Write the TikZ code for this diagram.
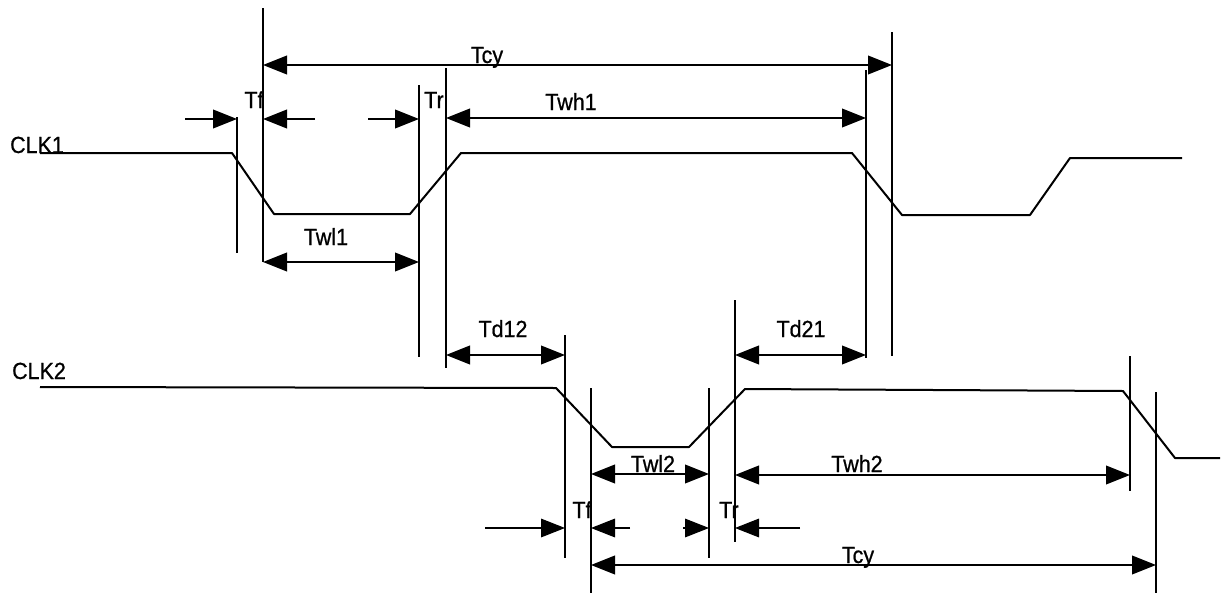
\documentclass[tikz,border=0pt]{standalone}
\usepackage{fontspec}
\setmainfont{Liberation Sans}[FakeStretch=0.92,FakeBold=0.8]
\usetikzlibrary{arrows.meta,positioning}

\begin{document}
\begin{tikzpicture}[x=0.75pt, y=-0.75pt, wave/.style={line width=1.5pt, line join=round}, guide/.style={line width=1.4pt}, dim/.style={line width=1.4pt, -{Triangle[length=18pt,width=14pt]}}, dimthin/.style={dim, line width=0.8pt}, both/.style={line width=1.4pt, {Triangle[length=18pt,width=14pt]}-{Triangle[length=18pt,width=14pt]}}, lbl/.style={font=\fontsize{17.5}{20}\selectfont, inner sep=0pt, anchor=base}]

\useasboundingbox (0,0) rectangle (1222,593);

% signal names
\node[lbl] (clkone) at (37,153) {CLK1};
\node[lbl] (clktwo) at (39,379) {CLK2};

% waveforms
\draw[wave] (40,153) -- (232,153) -- (274,214) -- (410,214) -- (461,153) -- (852,153) -- (902,215) -- (1030,215) -- (1070,158) -- (1182,158);
\draw[wave] (40,387) -- (556,388) -- (612,447) -- (689,447) -- (745,389) -- (1123,391) -- (1175,458) -- (1220,458);

% guide lines CLK1
\draw[guide] (237,117) -- (237,253);
\draw[guide] (263,8) -- (263,262);
\draw[guide] (419,85) -- (419,357);
\draw[guide] (446,68) -- (446,368);
\draw[guide] (866,70) -- (866,358);
\draw[guide] (892,32) -- (892,356);

% guide lines CLK2
\draw[guide] (565,335) -- (565,558);
\draw[guide] (591,388) -- (591,593);
\draw[guide] (709,388) -- (709,558);
\draw[guide] (735,300) -- (735,542);
\draw[guide] (1130,356) -- (1130,491);
\draw[guide] (1156,392) -- (1156,593);

% timings CLK1
\draw[both] (263,65) -- (892,65);
\node[lbl] (tcyone) at (487,63) {Tcy};
\draw[dim] (185,119) -- (237,119);
\draw[dim] (315,119) -- (263,119);
\draw[dim] (368,119) -- (419,119);
\node[lbl] (tfone) at (254,108) {Tf};
\node[lbl] (trone) at (434,108) {Tr};
\draw[both] (446,118) -- (866,118);
\node[lbl] (twhone) at (571,110) {Twh1};
\draw[both] (263,262) -- (419,262);
\node[lbl] (twlone) at (326,245) {Twl1};

% delays between clocks
\draw[both] (446,355) -- (565,355);
\node[lbl] (tdot) at (503,337) {Td12};
\draw[both] (735,355) -- (866,355);
\node[lbl] (tdto) at (801,337) {Td21};

% timings CLK2
\draw[both] (591,474) -- (709,474);
\node[lbl] (twltwo) at (653,472) {Twl2};
\draw[both] (735,475) -- (1130,475);
\node[lbl] (twhtwo) at (857,472) {Twh2};
\draw[dimthin] (485,528) -- (565,528);
\draw[dimthin] (630,528) -- (591,528);
\draw[dimthin] (683,528) -- (709,528);
\draw[dimthin] (800,528) -- (735,528);
\node[lbl] (tftwo) at (582,518) {Tf};
\node[lbl] (trtwo) at (729,518) {Tr};
\draw[both] (591,565) -- (1156,565);
\node[lbl] (tcytwo) at (858,563) {Tcy};
\end{tikzpicture}
\end{document}
